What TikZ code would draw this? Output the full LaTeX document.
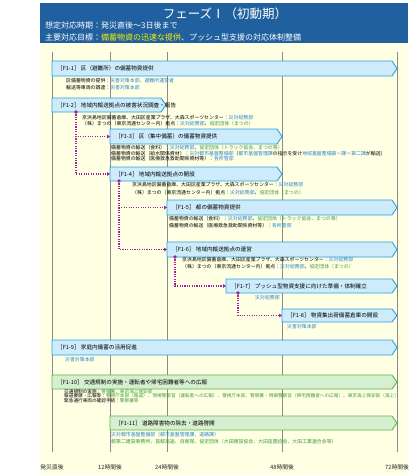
\documentclass[tikz,border=0pt]{standalone}
\usepackage{fontspec}
\setmainfont{Noto Sans CJK JP}
\usetikzlibrary{arrows.meta,calc}
\definecolor{hdr}{HTML}{20609F}
\definecolor{cream}{HTML}{FFFFE4}
\definecolor{bfill}{HTML}{CDEBFA}
\definecolor{bline}{HTML}{2AA2DF}
\definecolor{gfill}{HTML}{D6EFD0}
\definecolor{gline}{HTML}{5CB84A}
\definecolor{tblue}{HTML}{2E86D0}
\definecolor{tgreen}{HTML}{3F9B3F}
\definecolor{mag}{HTML}{A2229E}
\definecolor{grid}{HTML}{8A8A8A}
\newcommand\tlbox[6]{%
  \path[#2] (#3,#5) -- ({#4-5},#5) -- (#4,{(#5+#6)/2}) -- ({#4-5},#6) -- (#3,#6) -- cycle;
  \node[inner sep=0pt, outer sep=0pt, anchor=north west, minimum width={(#4-#3)*1pt}, minimum height={(#6-#5)*1pt}] (#1) at (#3,#5) {};
}
\newcommand\B[1]{\textcolor{tblue}{#1}}
\newcommand\G[1]{\textcolor{tgreen}{#1}}
\begin{document}
\begin{tikzpicture}[x=1pt,y=-1pt,
  bluebox/.style={fill=bfill, draw=bline, line width=0.9pt, line join=miter},
  greenbox/.style={fill=gfill, draw=gline, line width=0.9pt, line join=miter},
  lbl/.style={anchor=west, inner sep=0pt, font=\fontsize{5.6}{6}\selectfont},
  small/.style={anchor=north west, inner sep=0pt, align=left, font=\fontsize{4.9}{#1}\selectfont},
  small/.default=7,
  axislbl/.style={inner sep=0pt, font=\fontsize{5.8}{6}\selectfont, text=black!85},
  conn/.style={draw=mag, line width=1.1pt, dash pattern=on 1.1pt off 1.3pt, -{Triangle[length=3pt,width=3.6pt]}},
  gridline/.style={draw=grid, line width=0.7pt}]
\useasboundingbox (0,0) rectangle (414,475);
% background
\fill[cream] (40,43) rectangle (408,475);
\fill[hdr] (40,3) rectangle (408,43);
\node[inner sep=0pt, text=white, font=\fontsize{12.5}{13}\selectfont] (title) at (225,14) {フェーズⅠ（初動期）};
\node[anchor=west, inner sep=0pt, text=white, font=\fontsize{8}{9}\selectfont] (sub1) at (45,25.5) {想定対応時期：発災直後～3日後まで};
\node[anchor=west, inner sep=0pt, text=white, font=\fontsize{8}{9}\selectfont] (sub2) at (45,37.5) {主要対応目標：\textcolor{yellow}{備蓄物資の迅速な提供}、プッシュ型支援の対応体制整備};
% grid lines
\foreach \x/\n in {52/t0,110/t12,167/t24,282/t48,397/t72}{
  \draw[gridline] (\x,52) -- (\x,452);
  \coordinate (\n) at (\x,467);
}
\node[axislbl] (a0) at (t0) {発災直後};
\node[axislbl] (a12) at (t12) {12時間後};
\node[axislbl] (a24) at (t24) {24時間後};
\node[axislbl] (a48) at (t48) {48時間後};
\node[axislbl] (a72) at (t72) {72時間後};
% boxes
\tlbox{f11}{bluebox}{52}{397}{61}{76}
\node[lbl] (f11l) at ($(f11.west)+(5,0)$) {［F1-1］ 区（避難所）の備蓄物資提供};
\node[small] (f11t) at (66,78) {区備蓄物資の提供：\B{災害対策本部、避難所運営者}\\輸送等車両の調達：\B{災害対策本部}};

\tlbox{f12}{bluebox}{52}{166}{98}{112}
\node[lbl] (f12l) at ($(f12.west)+(5,0)$) {［F1-2］ 地域内輸送拠点の被害状況調査・報告};
\node[small=5.2] (f12t) at (82,115.5) {京浜島地区備蓄倉庫、大田区産業プラザ、大森スポーツセンター：\B{災対総務部}\\（株）まつの（東京流通センター内）拠点：\B{災対総務部}、\G{協定団体（まつの）}};

\tlbox{f13}{bluebox}{110}{282}{129}{144}
\node[lbl] (f13l) at ($(f13.west)+(5,0)$) {［F1-3］ 区（集中備蓄）の備蓄物資提供};
\node[small=5.3] (f13t) at (111,145.3) {備蓄物資の輸送（食料）：\B{災対総務部}、\G{協定団体（トラック協会、まつの等）}\\備蓄物資の輸送（給水関係資材）：\B{災対都市基盤整備部}（\B{都市基盤管理課}の指示を受け\B{地域基盤整備第一課～第二課}が輸送）\\備蓄物資の輸送（医療救急救助関係資材等）：\B{各所管部}};

\tlbox{f14}{bluebox}{110}{282}{167}{181}
\node[lbl] (f14l) at ($(f14.west)+(5,0)$) {［F1-4］ 地域内輸送拠点の開設};
\node[small=8] (f14t) at (132,182.5) {京浜島地区備蓄倉庫、大田区産業プラザ、大森スポーツセンター：\B{災対総務部}\\（株）まつの（東京流通センター内）拠点：\B{災対総務部}、\G{協定団体（まつの）}};

\tlbox{f15}{bluebox}{167}{397}{200}{215}
\node[lbl] (f15l) at ($(f15.west)+(5,0)$) {［F1-5］ 都の備蓄物資提供};
\node[small=7] (f15t) at (169,216.5) {備蓄物資の輸送（食料）：\B{災対総務部}、\G{協定団体（トラック協会、まつの等）}\\備蓄物資の輸送（医療救急救助関係資材等）：\B{各所管部}};

\tlbox{f16}{bluebox}{167}{397}{242}{257}
\node[lbl] (f16l) at ($(f16.west)+(5,0)$) {［F1-6］ 地域内輸送拠点の運営};
\node[small=7] (f16t) at (182,257.5) {京浜島地区備蓄倉庫、大田区産業プラザ、大森スポーツセンター：\B{災対総務部}\\（株）まつの（東京流通センター内）拠点：\B{災対総務部}、\G{協定団体（まつの）}};

\tlbox{f17}{bluebox}{226}{397}{279}{293}
\node[lbl] (f17l) at ($(f17.west)+(5,0)$) {［F1-7］ プッシュ型物資支援に向けた準備・体制確立};
\node[small] (f17t) at (255,295.5) {\B{災対総務部}};

\tlbox{f18}{bluebox}{282}{397}{309}{322}
\node[lbl] (f18l) at ($(f18.west)+(5,0)$) {［F1-8］ 物資集出荷備蓄倉庫の開設};
\node[small] (f18t) at (287,324.5) {\B{災害対策本部}};

\tlbox{f19}{bluebox}{52}{397}{340}{355}
\node[lbl] (f19l) at ($(f19.west)+(5,0)$) {［F1-9］ 家庭内備蓄の活用促進};
\node[small] (f19t) at (65,357.5) {\B{災害対策本部}};

\tlbox{f110}{greenbox}{52}{397}{375}{389}
\node[lbl] (f110l) at ($(f110.west)+(5,0)$) {［F1-10］ 交通規制の実施・運転者や帰宅困難者等への広報};
\node[anchor=north west, inner sep=0pt, align=left, font=\fontsize{4.65}{4.6}\selectfont] (f110t) at (64,388.9) {交通規制の実施：\G{警察署、東京海上保安部}\\報道要請・広報等：\G{警視庁本部（報道）、現場警察官（運転者への広報）、警視庁本部、警察署・現場警察官（帰宅困難者への広報）、東京海上保安部（海上）}\\緊急通行車両の確認手続：\G{警察署等}};

\tlbox{f111}{greenbox}{110}{397}{416}{430}
\node[lbl] (f111l) at ($(f111.west)+(5,0)$) {［F1-11］ 道路障害物の除去・道路啓開};
\node[small=7] (f111t) at (111,432.5) {\B{災対都市基盤整備部（都市基盤管理課、道路課）}\\\G{都第二建設事務所、首都高速、自衛隊、協定団体（大田建設協会、大田造園協会、大田工業連合会等）}};

% connectors
\coordinate (d2) at ($(f12.south west)+(24,0)$);
\draw[conn] (d2) |- (f13.west);
\draw[conn] (d2) |- (f14.west);
\fill[mag] (d2) circle (1.8);
\coordinate (d4) at ($(f14.south west)+(9,0)$);
\draw[conn] (d4) |- (f15.west);
\draw[conn] (d4) |- (f16.west);
\fill[mag] (d4) circle (1.8);
\coordinate (d6) at ($(f16.south west)+(8,0)$);
\draw[conn] (d6) |- (f17.west);
\fill[mag] (d6) circle (1.8);
\coordinate (d7) at ($(f17.south west)+(12,0)$);
\draw[conn] (d7) |- (f18.west);
\fill[mag] (d7) circle (1.8);
\end{tikzpicture}
\end{document}
